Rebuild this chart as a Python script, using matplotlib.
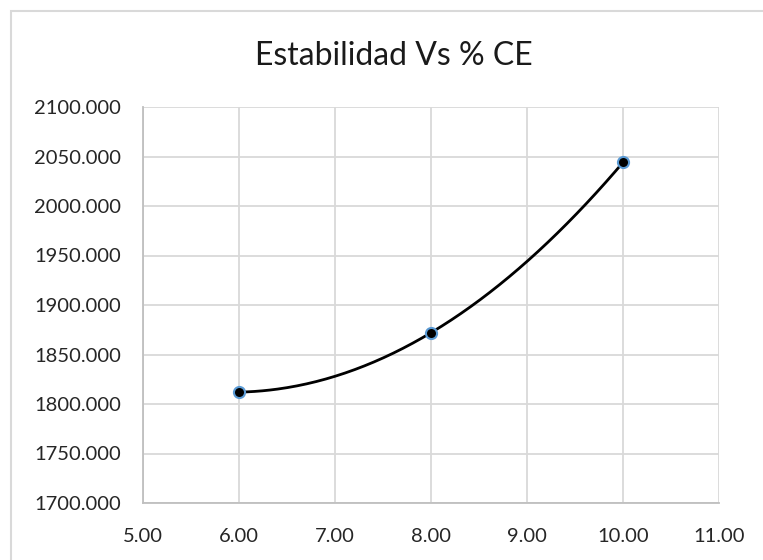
import matplotlib
matplotlib.use("Agg")
import matplotlib.pyplot as plt
import numpy as np
from matplotlib.patches import Rectangle

x_vals = [6.0, 8.0, 10.0]
y_vals = [1812.0, 1872.0, 2044.0]
x_ticks = [5, 6, 7, 8, 9, 10, 11]
y_ticks = [1700, 1750, 1800, 1850, 1900, 1950, 2000, 2050, 2100]
title = "Estabilidad Vs % CE"

plt.rcParams['font.family'] = ['Lato', 'DejaVu Sans']

# smooth curve through the data points (interpolating polynomial)
coef = np.polyfit(x_vals, y_vals, len(x_vals) - 1)
sx = np.linspace(min(x_vals), max(x_vals), 200)
sy = np.polyval(coef, sx)

fig = plt.figure(figsize=(7.63, 5.60), dpi=100)
fig.patches.append(Rectangle((11 / 763, -0.1), 1.2, 1 - 11 / 560 + 0.1,
                             transform=fig.transFigure, fill=False,
                             edgecolor='#d9d9d9', linewidth=1.5))
ax = fig.add_axes([143 / 763, 1 - 503 / 560, (719 - 143) / 763, (503 - 107) / 560])

ax.plot(sx, sy, color='black', linewidth=2.0, zorder=3)
ax.plot(x_vals, y_vals, linestyle='none', marker='o', markersize=8,
        markerfacecolor='black', markeredgecolor='#5b9bd5', markeredgewidth=1.5, zorder=4)

ax.set_xlim(5, 11)
ax.set_ylim(1700, 2100)
ax.set_xticks(x_ticks)
ax.set_yticks(y_ticks)
ax.set_xticklabels([f"{v:.2f}" for v in x_ticks])
ax.set_yticklabels([f"{v:.3f}" for v in y_ticks])
ax.grid(True, color='#d9d9d9', linewidth=1.3)
ax.set_axisbelow(True)
for s in ['top', 'right']:
    ax.spines[s].set_visible(False)
for s in ['left', 'bottom']:
    ax.spines[s].set_color('#bfbfbf')
    ax.spines[s].set_linewidth(1.3)
ax.tick_params(axis='both', length=0, labelsize=14.5, colors='#262626')
ax.tick_params(axis='y', pad=16)
ax.tick_params(axis='x', pad=18)

fig.text(394 / 763, 1 - 56 / 560, title, ha='center', va='center',
         fontsize=23, color='#1a1a1a')

fig.savefig("out.png", dpi=100, facecolor='white')
